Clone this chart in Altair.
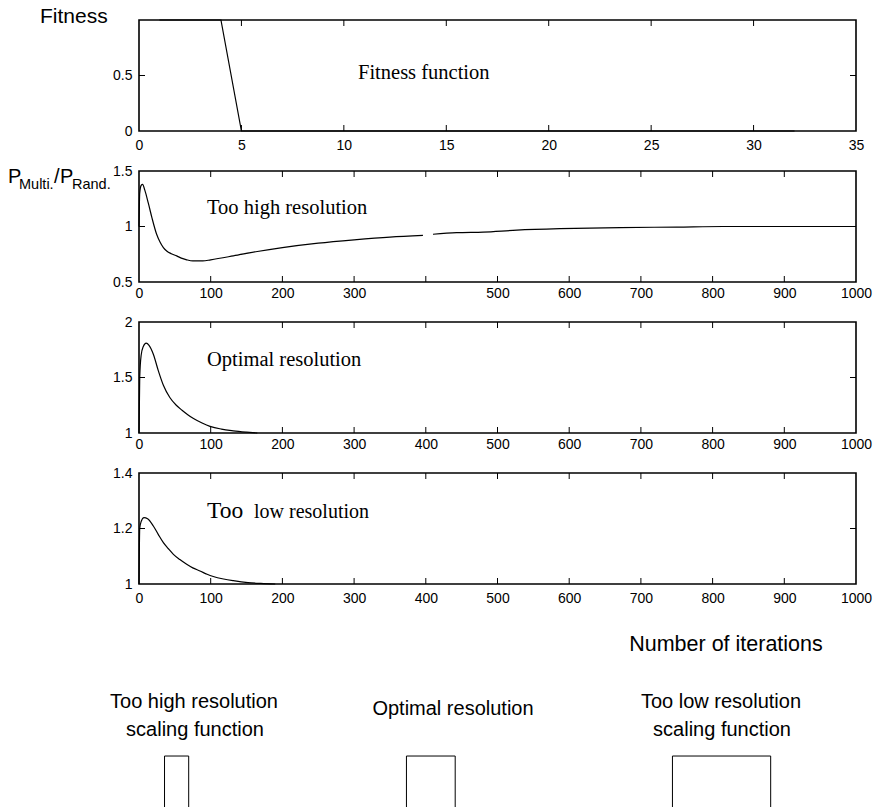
import altair as alt
import pandas as pd

# ---------------- data ----------------
fit_x = [1, 4, 5, 32]
fit_y = [1, 1, 0, 0]

high_x_a = [0, 1, 3, 5, 8, 13, 18, 24.6, 29.3, 34, 38.6, 45, 52.6, 59, 66.5, 75, 89, 100,
            131.5, 165, 200, 250, 300, 350, 396]
high_y_a = [1.0, 1.3, 1.37, 1.38, 1.33, 1.21, 1.08, 0.93, 0.86, 0.81, 0.78, 0.755, 0.735,
            0.715, 0.70, 0.69, 0.69, 0.70, 0.735, 0.775, 0.81, 0.85, 0.88, 0.905, 0.92]
high_x_b = [410, 443, 480, 527, 587, 671, 750, 815, 900, 1000]
high_y_b = [0.93, 0.944, 0.95, 0.967, 0.98, 0.99, 0.995, 1.0, 1.0, 1.0]

opt_x = [0, 1, 3, 6, 10, 14, 20, 27, 34, 43, 52, 60, 68, 76, 88, 99, 115, 131.5, 150, 165]
opt_y = [1.0, 1.5, 1.7, 1.78, 1.81, 1.79, 1.71, 1.56, 1.43, 1.32, 1.25, 1.205, 1.165, 1.13,
         1.09, 1.06, 1.035, 1.02, 1.008, 1.0]

low_x = [0, 1, 3, 7, 12, 20, 27, 34, 41, 48, 57, 66.5, 75, 85, 95, 103.6, 118, 131.5, 152,
         170, 190]
low_y = [1.0, 1.2, 1.225, 1.239, 1.235, 1.209, 1.178, 1.149, 1.127, 1.107, 1.088, 1.071,
         1.058, 1.047, 1.035, 1.027, 1.018, 1.012, 1.005, 1.002, 1.0]

fit_xticks = [0, 5, 10, 15, 20, 25, 30, 35]
iter_ticks = [0, 100, 200, 300, 400, 500, 600, 700, 800, 900, 1000]
fit_yticks = [0, 0.5]
high_yticks = [0.5, 1, 1.5]
opt_yticks = [1, 1.5, 2]
low_yticks = [1, 1.2, 1.4]

scale_names = ["Too high resolution", "Optimal resolution", "Too low resolution"]
scale_left = [35.6, 373, 744]
scale_right = [69.3, 441, 881]

# ---------------- layout constants ----------------
W, H = 717, 111
TICK = 6
SANS = "Liberation Sans"
SERIF = "Liberation Serif"


def text_layer(txt, x, y, size, font=SANS, align="left", baseline="alphabetic"):
    return alt.Chart(pd.DataFrame({"t": [txt]})).mark_text(
        font=font, fontSize=size, align=align, baseline=baseline, color="black"
    ).encode(x=alt.value(x), y=alt.value(y), text="t:N")


def panel(df, xdom, ydom, xt, yt, lpad, label_expr="toString(datum.value)", extras=(),
          interp="linear"):
    xs = alt.Scale(domain=xdom, nice=False, zero=False)
    ys = alt.Scale(domain=ydom, nice=False, zero=False)
    X = alt.X("x:Q", scale=xs, axis=alt.Axis(values=xt, labelExpr=label_expr, labelFlush=False,
                                             labelPadding=lpad, title=None))
    Y = alt.Y("y:Q", scale=ys, axis=alt.Axis(values=yt, labelExpr="toString(datum.value)",
                                             labelFlush=False, labelPadding=7, title=None))

    line = alt.Chart(df).mark_line(color="black", strokeWidth=1.2, interpolate=interp).encode(
        x=X, y=Y, detail="seg:N", order="i:Q")

    inner_x = pd.DataFrame({"x": [v for v in xt if xdom[0] < v < xdom[1]]})
    inner_y = pd.DataFrame({"y": [v for v in yt if ydom[0] < v < ydom[1]]})
    rule = dict(color="black", strokeWidth=1)
    bot = alt.Chart(inner_x).mark_rule(**rule).encode(x=X, y=alt.value(H), y2=alt.value(H - TICK))
    top = alt.Chart(inner_x).mark_rule(**rule).encode(x=X, y=alt.value(0), y2=alt.value(TICK))
    lft = alt.Chart(inner_y).mark_rule(**rule).encode(y=Y, x=alt.value(0), x2=alt.value(TICK))
    rgt = alt.Chart(inner_y).mark_rule(**rule).encode(y=Y, x=alt.value(W), x2=alt.value(W - TICK))
    return alt.layer(line, bot, top, lft, rgt, *extras).properties(width=W, height=H)


def df_of(xs, ys, seg="a"):
    return pd.DataFrame({"x": xs, "y": ys, "seg": seg, "i": range(len(xs))})


fit_df = df_of(fit_x, fit_y)
high_df = pd.concat([df_of(high_x_a, high_y_a, "a"), df_of(high_x_b, high_y_b, "b")])
opt_df = df_of(opt_x, opt_y)
low_df = df_of(low_x, low_y)

p1 = panel(fit_df, [0, 35], [0, 1], fit_xticks, fit_yticks, 7, extras=[
    text_layer("Fitness", -99, 3, 21),
    text_layer("Fitness function", 219, 59, 20.5, font=SERIF),
])

p2 = panel(high_df, [0, 1000], [0.5, 1.5], iter_ticks, high_yticks, 4,
           label_expr="datum.value == 400 ? '' : toString(datum.value)", interp="monotone",
           extras=[
    text_layer("P", -131, 12, 20),
    text_layer("Multi.", -120, 18, 14.5),
    text_layer("/", -85, 12, 20),
    text_layer("P", -79, 12, 20),
    text_layer("Rand.", -67, 18, 14.5),
    text_layer("Too high resolution", 68, 43, 20.5, font=SERIF),
])

p3 = panel(opt_df, [0, 1000], [1, 2], iter_ticks, opt_yticks, 4, interp="monotone", extras=[
    text_layer("Optimal resolution", 68, 44, 20.5, font=SERIF),
])

p4 = panel(low_df, [0, 1000], [1, 1.4], iter_ticks, low_yticks, 7, interp="monotone", extras=[
    text_layer("Too", 68, 45, 23.5, font=SERIF),
    text_layer("low resolution", 115, 45, 20, font=SERIF),
    text_layer("Number of iterations", 587, 172, 21.5, align="center", baseline="middle"),
])

# bottom: scaling functions (box functions)
bx, by, bn, bo = [], [], [], []
for name, l, r in zip(scale_names, scale_left, scale_right):
    bx += [l, l, r, r]
    by += [0, 1, 1, 0]
    bn += [name] * 4
    bo += [0, 1, 2, 3]
box_df = pd.DataFrame({"x": bx, "y": by, "name": bn, "o": bo})

BH = 183
boxes = alt.Chart(box_df).mark_line(color="black", strokeWidth=1).encode(
    x=alt.X("x:Q", scale=alt.Scale(domain=[0, 1000], nice=False, zero=False), axis=None),
    y=alt.Y("y:Q", scale=alt.Scale(domain=[0, 3.59], nice=False, zero=False), axis=None),
    detail="name:N", order="o:Q",
)
bottom = alt.layer(
    boxes,
    text_layer("Too high resolution", 55, 78, 20, align="center", baseline="middle"),
    text_layer("scaling function", 56, 106, 20, align="center", baseline="middle"),
    text_layer("Optimal resolution", 314, 85, 20, align="center", baseline="middle"),
    text_layer("Too low resolution", 582, 78, 20, align="center", baseline="middle"),
    text_layer("scaling function", 583, 106, 20, align="center", baseline="middle"),
).properties(width=W, height=BH, view=alt.ViewBackground(strokeOpacity=0))

chart = alt.vconcat(p1, p2, p3, p4, bottom, spacing=40, bounds="flush").properties(
    autosize=alt.AutoSizeParams(type="none"),
    padding={"left": 139, "top": 20, "right": 20, "bottom": 787},
    background="white",
).configure_view(stroke="black", strokeWidth=1.6).configure_axis(
    labelFont=SANS, labelFontSize=14, labelColor="black",
    ticks=False, domain=False, grid=False,
)

chart.save("out.html", embed_options={"renderer": "svg", "actions": False})
